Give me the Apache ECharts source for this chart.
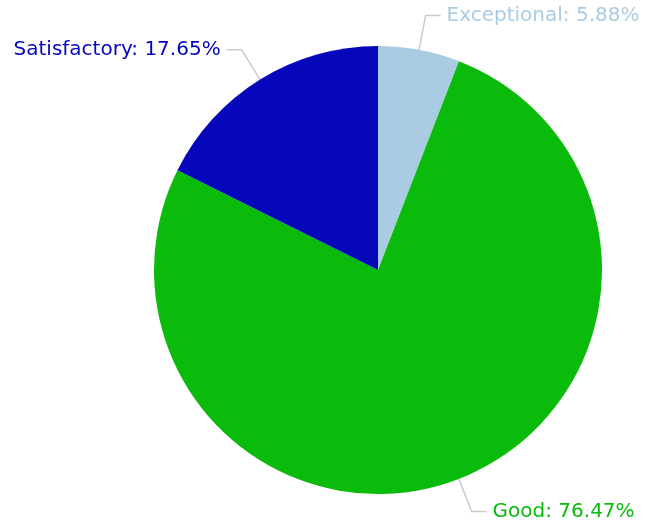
<!DOCTYPE html>
<html><head><meta charset="utf-8">
<script src="https://cdn.jsdelivr.net/npm/echarts@6/dist/echarts.min.js"></script>
<style>html,body{margin:0;padding:0;background:#fff}#c{width:646px;height:531px}</style>
</head><body><div id="c"></div>
<script>
const categories = ['Exceptional', 'Good', 'Satisfactory'];
const values = [1, 13, 3];
const colors = ['#a9cce3', '#0bbb0b', '#0606bb'];

const chart = echarts.init(document.getElementById('c'));
chart.setOption({
  animation: false,
  series: [{
    type: 'pie',
    center: [378, 270],
    radius: [0, 224],
    startAngle: 90,
    clockwise: true,
    data: categories.map((c, i) => ({name: c, value: values[i], itemStyle: {color: colors[i]}, label: {color: colors[i]}})),
    label: {
      formatter: '{b}: {d}%',
      fontFamily: 'DejaVu Sans',
      fontSize: 20,
      distanceToLabelLine: 6,
      overflow: 'none',
      bleedMargin: 0
    },
    labelLine: {
      length: 35,
      length2: 15,
      lineStyle: {color: '#cccccc', width: 1.5}
    },
    itemStyle: {borderWidth: 0}
  }]
});
</script></body></html>
